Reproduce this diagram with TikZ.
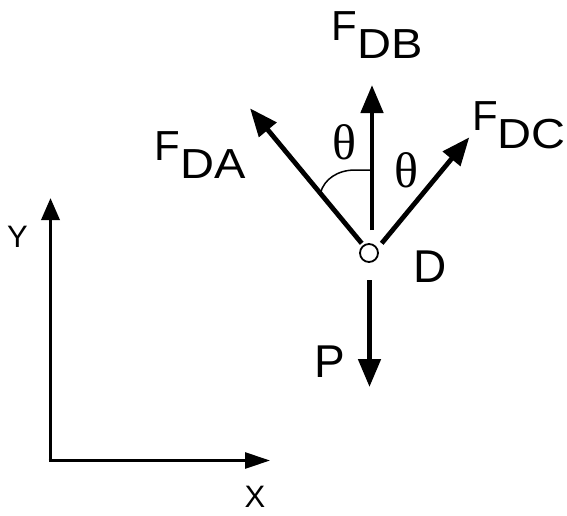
\documentclass[tikz,border=0pt]{standalone}
\usepackage{fontspec}
\setmainfont{Liberation Sans}
\newfontfamily\grk{Liberation Serif}
\newfontfamily\widesf[FakeStretch=1.12]{Liberation Sans}
\usetikzlibrary{arrows.meta}
\tikzset{
  force/.style={line width=4.8pt,-{Triangle[length=28pt,width=22pt]}},
  axisy/.style={line width=3.5pt,-{Triangle[length=22pt,width=18pt]}},
  axisx/.style={line width=2.8pt,-{Triangle[length=25pt,width=16pt]}},
  lab/.style={inner sep=0pt,outer sep=0pt,anchor=base west,font=\fontsize{42}{42}\selectfont},
  biglab/.style={inner sep=0pt,outer sep=0pt,anchor=base west,font=\fontsize{46}{46}\selectfont},
  axlab/.style={inner sep=0pt,outer sep=0pt,anchor=base,font=\fontsize{31}{31}\selectfont},
  thlab/.style={inner sep=0pt,outer sep=0pt,anchor=center,font=\grk\fontsize{50}{50}\selectfont},
  anglearc/.style={line width=1.5pt}
}
\newcommand{\subs}[1]{\raisebox{-18pt}{\widesf #1}}
\begin{document}
\begin{tikzpicture}[x=1pt,y=-1pt]
\useasboundingbox[fill=white] (0,0) rectangle (567,515);
% joint D
\node[draw,circle,line width=1.8pt,minimum size=18pt,inner sep=0pt] (D) at (369,253) {};
% force arrows
\coordinate (fdbT) at (372,230);
\coordinate (fdbH) at (372,85);
\coordinate (fdaT) at (361.7,243.3);
\coordinate (fdaH) at (250,108.3);
\coordinate (fdcT) at (381.7,243.3);
\coordinate (fdcH) at (469.3,137.3);
\coordinate (pT) at (369.5,280);
\coordinate (pH) at (369.5,387);
\draw[force] (fdbT) -- (fdbH);
\draw[force] (fdaT) -- (fdaH);
\draw[force] (fdcT) -- (fdcH);
\draw[force] (pT) -- (pH);
% angle arc
\coordinate (arcA) at (320.5,193);
\coordinate (arcB) at (355,170);
\coordinate (arcC) at (372,170);
\draw[anglearc] (arcA) .. controls (324,179) and (338,170) .. (arcB) -- (arcC);
% labels
\node[lab] (lfdb) at (331.6,40) {F\subs{DB}};
\node[lab] (lfda) at (154.6,160) {F\subs{DA}};
\node[lab] (lfdc) at (472,130) {F\subs{DC}};
\node[biglab] (lD) at (413.4,282) {D};
\node[biglab] (lP) at (314.5,377) {P};
\node[thlab] (th1) at (344,142.5) {θ};
\node[thlab] (th2) at (406,170) {θ};
% axes
\coordinate (O) at (50.5,460.5);
\coordinate (yH) at (50.5,198);
\coordinate (xH) at (270,460.5);
\draw[axisy] ([yshift=-1.4pt]O) -- (yH);
\draw[axisx] ([xshift=-2pt]O) -- (xH);
\node[axlab] (lY) at (17.5,247) {Y};
\node[axlab] (lX) at (255,507) {X};
\end{tikzpicture}
\end{document}
